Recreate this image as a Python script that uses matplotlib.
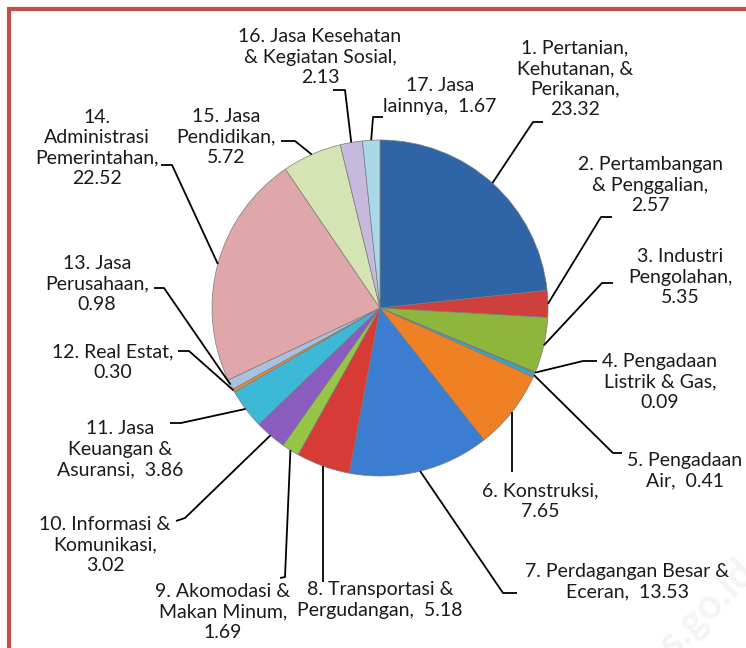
import matplotlib.pyplot as plt
import numpy as np
from matplotlib.patches import Rectangle

# Data: share per sector (%)
sectors = [
    "1. Pertanian,\nKehutanan, &\nPerikanan,\n{}",
    "2. Pertambangan\n& Penggalian,\n{}",
    "3. Industri\nPengolahan,\n{}",
    "4. Pengadaan\nListrik & Gas,\n{}",
    "5. Pengadaan\nAir,  {}",
    "6. Konstruksi,\n{}",
    "7. Perdagangan Besar &\nEceran,  {}",
    "8. Transportasi &\nPergudangan,  {}",
    "9. Akomodasi &\nMakan Minum,\n{}",
    "10. Informasi &\nKomunikasi,\n{}",
    "11. Jasa\nKeuangan &\nAsuransi,  {}",
    "12. Real Estat,\n{}",
    "13. Jasa\nPerusahaan,\n{}",
    "14.\nAdministrasi\nPemerintahan,\n{}",
    "15. Jasa\nPendidikan,\n{}",
    "16. Jasa Kesehatan\n& Kegiatan Sosial,\n{}",
    "17. Jasa\nlainnya,  {}",
]
values = [23.32, 2.57, 5.35, 0.09, 0.41, 7.65, 13.53, 5.18, 1.69,
          3.02, 3.86, 0.30, 0.98, 22.52, 5.72, 2.13, 1.67]
colors = ["#2f64a7", "#cf3f3b", "#8fb63c", "#7e5ba6", "#36a6c4", "#f08024",
          "#3b7dd0", "#d63b36", "#96c548", "#8a5cc0", "#3cb9d7", "#f08a2c",
          "#a9c1e1", "#dfa7a9", "#d5e4b3", "#c6b9db", "#a8d9e8"]

W, H = 746, 648

# label block centres and leader knee / end points, in pixel coords (top-left origin)
label_pos = [(575, 79), (650, 185), (680, 277), (660, 382), (685, 471),
             (540, 501), (627, 582), (380, 600), (223, 612), (105, 545),
             (120, 449), (113, 362), (97, 284), (97, 148), (226, 137),
             (320, 57), (440, 96)]
knees = [((533, 122), (543, 122)), ((601, 217), (612, 217)),
         ((602, 283), (613, 283)), ((583, 361), (597, 361)),
         ((613, 453), (622, 453)), ((None, 472), None),
         ((503, 593), (517, 593)), ((None, 582), None),
         ((285, 577), (280, 578)), ((185, 518), (176, 521)),
         ((181, 423), (170, 423)), ((189, 351), (178, 351)),
         ((164, 288), (154, 288)), ((172, 165), (161, 165)),
         ((295, 141), (281, 141)), ((345, 90), (333, 90)),
         ((373, 117), (383, 117))]

plt.rcParams['font.family'] = ['Lato', 'DejaVu Sans']

fig = plt.figure(figsize=(W / 100, H / 100), dpi=100)
ax = fig.add_axes([0, 0, 1, 1])


def px(x, y):
    return x, H - y


cx, cy = px(380, 308)
radius = 168
wedges, _ = ax.pie(values, colors=colors, startangle=90, counterclock=False,
                   center=(cx, cy), radius=radius,
                   wedgeprops=dict(edgecolor='#7a7a7a', linewidth=0.5))
ax.set_xlim(0, W)
ax.set_ylim(0, H)
ax.set_aspect('equal')
ax.axis('off')

# faint watermark
ax.text(*px(640, 690), "bps.go.id", rotation=45, rotation_mode='anchor',
        fontsize=30, color='#f4f4f4', fontweight='bold', ha='left', va='baseline',
        zorder=0)

for w, lab, v, pos, (knee, end) in zip(wedges, sectors, values, label_pos, knees):
    ang = np.deg2rad((w.theta1 + w.theta2) / 2)
    ex = cx + radius * np.cos(ang)
    ey = cy + radius * np.sin(ang)
    kx = ex if knee[0] is None else knee[0]
    kx, ky = px(kx, knee[1])
    xs, ys = [ex, kx], [ey, ky]
    if end is not None:
        e2 = px(*end)
        xs.append(e2[0])
        ys.append(e2[1])
    ax.plot(xs, ys, color='black', lw=1.3, solid_capstyle='butt')
    ax.text(*px(*pos), lab.format(f"{v:.2f}"), ha='center', va='center',
            multialignment='center', fontsize=14, linespacing=1.25,
            color='#1a1a1a')

# red frame (cropped at right and bottom)
ax.add_patch(Rectangle(px(9, H + 20), W + 20, H + 11, fill=False,
                       edgecolor='#c0504d', lw=3, clip_on=False))

fig.savefig("out.png", dpi=100)
